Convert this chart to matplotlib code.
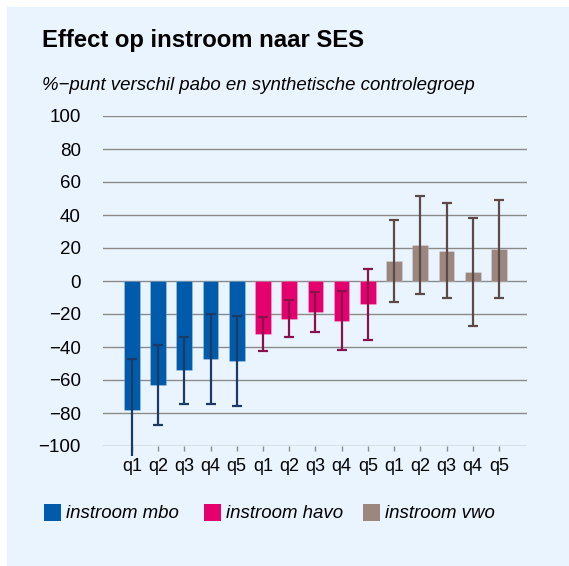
import numpy as np
import matplotlib.pyplot as plt
from matplotlib.patches import Rectangle

plt.rcParams['font.family'] = ['Liberation Sans', 'DejaVu Sans']

groups = ['instroom mbo', 'instroom havo', 'instroom vwo']
quintiles = ['q1', 'q2', 'q3', 'q4', 'q5']
colors = ['#005bab', '#e4006d', '#9b8680']
err_colors = ['#1c3a66', '#8a1150', '#5e4a45']

# bar value, lower and upper bound of the interval
mbo = [-78, -63, -54, -47, -48.5]
mbo_lo = [-115, -87.5, -74.3, -74.3, -76]
mbo_hi = [-47.5, -39, -34, -20, -21.2]
havo = [-32, -23, -18.6, -24, -14]
havo_lo = [-42.6, -34, -30.7, -42, -35.5]
havo_hi = [-22, -11.7, -6.5, -6, 7]
vwo = [12.3, 21.8, 18.4, 5.3, 19.2]
vwo_lo = [-12.5, -7.7, -10.1, -27, -10.3]
vwo_hi = [37.2, 51.7, 47.3, 38, 49.3]

vals = [mbo, havo, vwo]
los = [mbo_lo, havo_lo, vwo_lo]
his = [mbo_hi, havo_hi, vwo_hi]

W, H = 569, 566
fig = plt.figure(figsize=(W / 100, H / 100), dpi=100)
fig.patches.append(Rectangle((7 / W, 0), 1, 1 - 7 / H, transform=fig.transFigure,
                             facecolor='#eaf4fe', edgecolor='none', zorder=-10))

ax = fig.add_axes([103 / W, 1 - 446 / H, 424 / W, 330 / H])
ax.set_facecolor('none')

clip = Rectangle((-5, -106), 30, 400, transform=ax.transData, facecolor='none')

for g in range(3):
    x = np.arange(5) + 5 * g
    v = np.array(vals[g])
    lo = np.array(los[g])
    hi = np.array(his[g])
    ax.bar(x, v, width=0.6, color=colors[g], edgecolor='#ffffff40', linewidth=0.5,
           zorder=3, label=groups[g])
    eb = ax.errorbar(x, v, yerr=[v - lo, hi - v], fmt='none', ecolor=err_colors[g],
                     elinewidth=1.6, capsize=3.8, capthick=1.6, zorder=4)
    for art in list(eb[1]) + list(eb[2]):
        art.set_clip_on(True)
        art.set_clip_path(clip)

ax.set_xlim(-1.1, 15.07)
ax.set_ylim(-100, 100)
ax.set_yticks(np.arange(-100, 101, 20))
ax.set_yticklabels([str(t).replace('-', '\u2212') for t in range(-100, 101, 20)])
ax.set_xticks(np.arange(15))
ax.set_xticklabels(quintiles * 3)
ax.yaxis.grid(True, color='#8a8a8a', linewidth=1.0, zorder=0)
ax.set_axisbelow(True)
for s in ax.spines.values():
    s.set_visible(False)
ax.tick_params(axis='y', length=0, labelsize=13.5, pad=16)
ax.tick_params(axis='x', length=3.8, color='#8a8a8a', width=1, labelsize=13, pad=4.5)

fig.text(42 / W, 1 - 40 / H, 'Effect op instroom naar SES', fontsize=17.2,
         fontweight='bold', va='center', ha='left')
fig.text(42 / W, 1 - 86 / H, '%\u2212punt verschil pabo en synthetische controlegroep',
         fontsize=13.4, style='italic', va='center', ha='left')

# legend drawn by hand
sq_x = [44, 204, 363]
for c, sx, name in zip(colors, sq_x, groups):
    fig.patches.append(Rectangle((sx / W, 1 - 521 / H), 17 / W, 17 / H,
                                 transform=fig.transFigure, facecolor=c, edgecolor='none'))
    fig.text((sx + 22) / W, 1 - 513 / H, name, fontsize=13.4, style='italic',
             va='center', ha='left')

fig.savefig('out.png', dpi=100)
